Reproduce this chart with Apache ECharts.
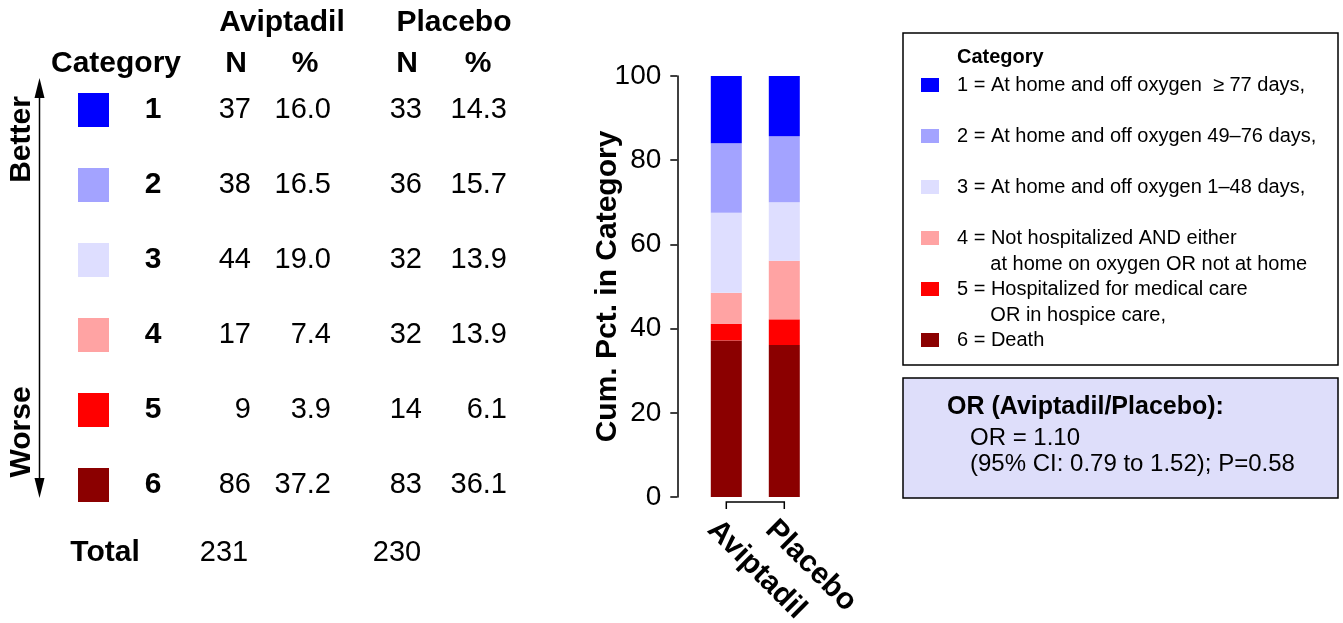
<!DOCTYPE html>
<html><head><meta charset="utf-8">
<script src="https://cdn.jsdelivr.net/npm/echarts@6/dist/echarts.min.js"></script>
<style>html,body{margin:0;padding:0;background:#fff}#c{width:1343px;height:623px}</style>
</head><body><div id="c"></div>
<script>
// ---- data ----
const groups = ['Aviptadil', 'Placebo'];
const categories = ['1', '2', '3', '4', '5', '6'];
const catDesc = [
  ['1 = At home and off oxygen  \u2265 77 days,'],
  ['2 = At home and off oxygen 49\u201376 days,'],
  ['3 = At home and off oxygen 1\u201348 days,'],
  ['4 = Not hospitalized AND either', 'at home on oxygen OR not at home'],
  ['5 = Hospitalized for medical care', 'OR in hospice care,'],
  ['6 = Death']
];
const catColors = ['#0000ff', '#a3a3ff', '#dedeff', '#ffa3a3', '#ff0000', '#8b0000'];
const nAvip = [37, 38, 44, 17, 9, 86];
const pctAvip = [16.0, 16.5, 19.0, 7.4, 3.9, 37.2];
const nPlac = [33, 36, 32, 32, 14, 83];
const pctPlac = [14.3, 15.7, 13.9, 13.9, 6.1, 36.1];
const totals = [231, 230];
const yTicks = [0, 20, 40, 60, 80, 100];
const orLines = ['OR (Aviptadil/Placebo):', 'OR = 1.10', '(95% CI: 0.79 to 1.52); P=0.58'];

// ---- layout / style ----
const FF = '"Liberation Sans", Arial, sans-serif';
const BOLD30 = 'bold 30px ' + FF;
const REG29 = '29px ' + FF;
const COL = { swX: 78, swW: 31, swH: 34, cat: 153, nA: 251, pA: 331, nP: 422, pP: 507 };

const chart = echarts.init(document.getElementById('c'), null, { renderer: 'canvas' });

const barSeries = [];
for (let k = categories.length - 1; k >= 0; k--) {
  barSeries.push({
    name: categories[k], type: 'bar', stack: 'cum', barWidth: 31,
    xAxisIndex: 0, yAxisIndex: 0,
    data: [pctAvip[k], pctPlac[k]],
    itemStyle: { color: catColors[k] },
    emphasis: { disabled: true }
  });
}

function fmt1(v) { return v.toFixed(1); }

const option = {
  animation: false,
  backgroundColor: '#fff',
  grid: [
    { left: 697.3, top: 76, width: 116, height: 421, outerBoundsMode: 'none' },
    { left: 0, top: 72.5, width: 560, height: 450, outerBoundsMode: 'none' }
  ],
  xAxis: [
    { gridIndex: 0, type: 'category', data: groups,
      axisLine: { show: false }, axisTick: { show: false }, splitLine: { show: false },
      axisLabel: { interval: 0, rotate: -45, align: 'left', verticalAlign: 'top', lineHeight: 40,
        margin: 14, fontSize: 30, fontWeight: 'bold', fontFamily: FF, color: '#000' } },
    { gridIndex: 1, type: 'value', min: 0, max: 1, show: false }
  ],
  yAxis: [
    { gridIndex: 0, type: 'value', min: 0, max: 100, interval: 20, offset: 20,
      name: 'Cum. Pct. in Category', nameLocation: 'middle', nameGap: 55, nameMoveOverlap: false,
      nameTextStyle: { fontSize: 30, fontWeight: 'bold', fontFamily: FF, color: '#000' },
      axisLine: { show: true, lineStyle: { color: '#000', width: 1.5 } },
      axisTick: { show: true, length: 7, lineStyle: { color: '#000', width: 1.5 } },
      splitLine: { show: false },
      axisLabel: { fontSize: 28, fontFamily: FF, color: '#000', margin: 16,
        formatter: v => (yTicks.indexOf(v) >= 0 ? String(v) : '') } },
    { gridIndex: 1, type: 'category', data: categories, inverse: true, show: false }
  ],
  legend: {
    orient: 'vertical', left: 921, top: 46, padding: 0, itemGap: -27,
    itemWidth: 18, itemHeight: 14, icon: 'rect', selectedMode: false,
    data: categories.slice(),
    formatter: function (name) {
      const d = catDesc[categories.indexOf(name)];
      return '\n' + d[0] + '\n' + (d[1] ? '      ' + d[1] : ' ');
    },
    textStyle: { fontSize: 20, lineHeight: 26, fontFamily: FF, color: '#000', padding: [0, 0, 0, 13] }
  },
  series: barSeries.concat([
    { // axis bracket under the bars
      type: 'custom', xAxisIndex: 0, yAxisIndex: 0, silent: true, clip: false,
      data: [[0, 0]],
      renderItem: function (params, api) {
        const a = api.coord([0, 0]), b = api.coord([groups.length - 1, 0]);
        const y = a[1] + 5;
        return { type: 'polyline', shape: { points: [[a[0], y + 7], [a[0], y], [b[0], y], [b[0], y + 7]] },
          style: { stroke: '#000', lineWidth: 1.5, fill: null } };
      }
    },
    { // table rows
      type: 'custom', xAxisIndex: 1, yAxisIndex: 1, silent: true, clip: false,
      data: categories.map((c, i) => [0, i]),
      encode: { x: 0, y: 1 },
      renderItem: function (params, api) {
        const i = params.dataIndex;
        const y = api.coord([0, i])[1];
        const t = (text, x, align, font) => ({ type: 'text', style: { text: text, x: x, y: y, align: align,
          verticalAlign: 'middle', font: font, fill: '#000' } });
        return { type: 'group', children: [
          { type: 'rect', shape: { x: COL.swX, y: y - COL.swH / 2, width: COL.swW, height: COL.swH },
            style: { fill: catColors[i] } },
          t(categories[i], COL.cat, 'center', BOLD30),
          t(String(nAvip[i]), COL.nA, 'right', REG29),
          t(fmt1(pctAvip[i]), COL.pA, 'right', REG29),
          t(String(nPlac[i]), COL.nP, 'right', REG29),
          t(fmt1(pctPlac[i]), COL.pP, 'right', REG29)
        ] };
      }
    }
  ]),
  graphic: [
    // table headers
    { type: 'text', x: 282, y: 23, style: { text: groups[0], font: BOLD30, fill: '#000', align: 'center', verticalAlign: 'middle' } },
    { type: 'text', x: 454, y: 23, style: { text: groups[1], font: BOLD30, fill: '#000', align: 'center', verticalAlign: 'middle' } },
    { type: 'text', x: 116, y: 64, style: { text: 'Category', font: BOLD30, fill: '#000', align: 'center', verticalAlign: 'middle' } },
    { type: 'text', x: 236, y: 64, style: { text: 'N', font: BOLD30, fill: '#000', align: 'center', verticalAlign: 'middle' } },
    { type: 'text', x: 305, y: 64, style: { text: '%', font: BOLD30, fill: '#000', align: 'center', verticalAlign: 'middle' } },
    { type: 'text', x: 407, y: 64, style: { text: 'N', font: BOLD30, fill: '#000', align: 'center', verticalAlign: 'middle' } },
    { type: 'text', x: 478, y: 64, style: { text: '%', font: BOLD30, fill: '#000', align: 'center', verticalAlign: 'middle' } },
    // totals
    { type: 'text', x: 105, y: 553, style: { text: 'Total', font: BOLD30, fill: '#000', align: 'center', verticalAlign: 'middle' } },
    { type: 'text', x: 224, y: 553, style: { text: String(totals[0]), font: REG29, fill: '#000', align: 'center', verticalAlign: 'middle' } },
    { type: 'text', x: 397, y: 553, style: { text: String(totals[1]), font: REG29, fill: '#000', align: 'center', verticalAlign: 'middle' } },
    // better / worse arrow
    { type: 'line', shape: { x1: 39.5, y1: 92, x2: 39.5, y2: 484 }, style: { stroke: '#000', lineWidth: 1.5 } },
    { type: 'polygon', shape: { points: [[39.5, 78], [34.5, 98], [44.5, 98]] }, style: { fill: '#000' } },
    { type: 'polygon', shape: { points: [[39.5, 498], [34.5, 478], [44.5, 478]] }, style: { fill: '#000' } },
    { type: 'text', x: 21.5, y: 139.5, rotation: Math.PI / 2, style: { text: 'Better', font: BOLD30, fill: '#000', align: 'center', verticalAlign: 'middle' } },
    { type: 'text', x: 21.5, y: 432, rotation: Math.PI / 2, style: { text: 'Worse', font: BOLD30, fill: '#000', align: 'center', verticalAlign: 'middle' } },
    // legend frame + title
    { type: 'rect', shape: { x: 903, y: 33, width: 435, height: 332 }, style: { fill: null, stroke: '#000', lineWidth: 1.5 }, z: -1 },
    { type: 'text', x: 957, y: 57, style: { text: 'Category', font: 'bold 20px ' + FF, fill: '#000', align: 'left', verticalAlign: 'middle' } },
    // OR box
    { type: 'rect', shape: { x: 903, y: 378, width: 435, height: 120 }, style: { fill: '#dedefa', stroke: '#000', lineWidth: 1.5 }, z: -1 },
    { type: 'text', x: 947, y: 407, style: { text: orLines[0], font: 'bold 25px ' + FF, fill: '#000', align: 'left', verticalAlign: 'middle' } },
    { type: 'text', x: 970, y: 438, style: { text: orLines[1], font: '24px ' + FF, fill: '#000', align: 'left', verticalAlign: 'middle' } },
    { type: 'text', x: 970, y: 464, style: { text: orLines[2], font: '24px ' + FF, fill: '#000', align: 'left', verticalAlign: 'middle' } }
  ]
};
chart.setOption(option);
</script></body></html>
